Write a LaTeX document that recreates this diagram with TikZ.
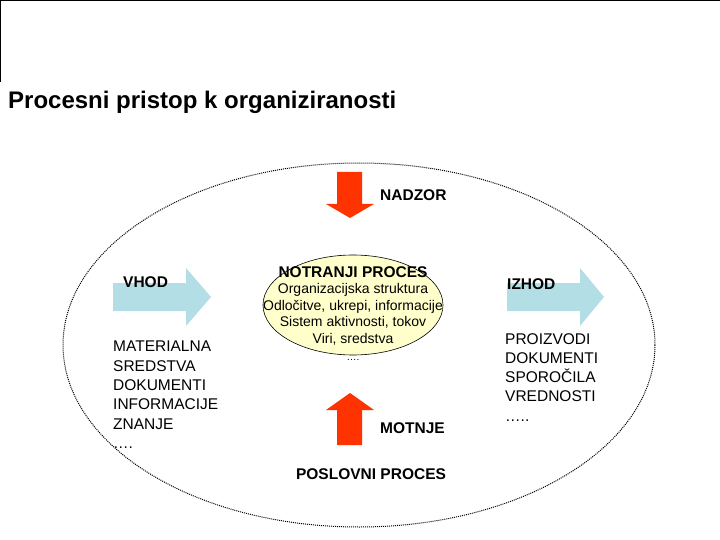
\documentclass[tikz,border=0pt]{standalone}
\usepackage{fontspec}
\setmainfont{Liberation Sans}
\definecolor{arrred}{HTML}{FF3300}
\definecolor{arrblue}{HTML}{B4DEE6}
\definecolor{ellfill}{HTML}{FFFFCC}
\begin{document}
\begin{tikzpicture}[x=1pt,y=-1pt,
  txt/.style={font=\fontsize{15.5}{19.3}\selectfont, inner sep=0pt},
  itxt/.style={font=\fontsize{14}{16.8}\selectfont, inner sep=0pt},
  btxt/.style={font=\fontsize{15.5}{18}\selectfont\bfseries, inner sep=0pt},
  redarrow/.style={fill=arrred, draw=none},
  bluearrow/.style={fill=arrblue, draw=none}]
\useasboundingbox (0,0) rectangle (720,540);
\draw[line width=1.5pt] (0,82) -- (0,0.75) -- (720,0.75);
\node[anchor=west, font=\fontsize{24}{28}\selectfont\bfseries, inner sep=0pt] (title) at (8,102) {Procesni pristop k organiziranosti};
\draw[densely dotted, line width=1pt] (359,345) ellipse [x radius=296, y radius=182];
% NADZOR arrow
\fill[redarrow] (337,172) -- (362,172) -- (362,204) -- (374,204) -- (350,218) -- (326,204) -- (337,204) -- cycle;
\node[btxt, anchor=west] (nadzor) at (380,195) {NADZOR};
% MOTNJE arrow
\fill[redarrow] (337,445) -- (362,445) -- (362,410) -- (374,410) -- (350,393) -- (326,410) -- (337,410) -- cycle;
\node[btxt, anchor=west] (motnje) at (380,428) {MOTNJE};
\node[btxt] (poslovni) at (371,474) {POSLOVNI PROCES};
% inner ellipse
\draw[fill=ellfill, line width=0.6pt] (353,305) ellipse [x radius=90, y radius=50];
\node[btxt] (notranji) at (353,272) {NOTRANJI PROCES};
\node[itxt, align=center, anchor=north] (inner) at (353,283) {Organizacijska struktura\\Odločitve, ukrepi, informacije\\Sistem aktivnosti, tokov\\Viri, sredstva\\\fontsize{10}{10}\selectfont ….};
% VHOD / IZHOD arrows
\fill[bluearrow] (113,283) -- (186,283) -- (186,268) -- (211,297) -- (186,326) -- (186,311) -- (113,311) -- cycle;
\node[btxt, anchor=west] (vhod) at (123,282) {VHOD};
\fill[bluearrow] (507,283) -- (580,283) -- (580,268) -- (604,297) -- (580,326) -- (580,311) -- (507,311) -- cycle;
\node[btxt, anchor=west] (izhod) at (507,284) {IZHOD};
\node[txt, align=left, anchor=north west] (vlist) at (113,341) {MATERIALNA\\SREDSTVA\\DOKUMENTI\\INFORMACIJE\\ZNANJE\\….};
\node[txt, align=left, anchor=north west] (ilist) at (505,333) {PROIZVODI\\DOKUMENTI\\SPOROČILA\\VREDNOSTI\\…..};
\end{tikzpicture}
\end{document}
